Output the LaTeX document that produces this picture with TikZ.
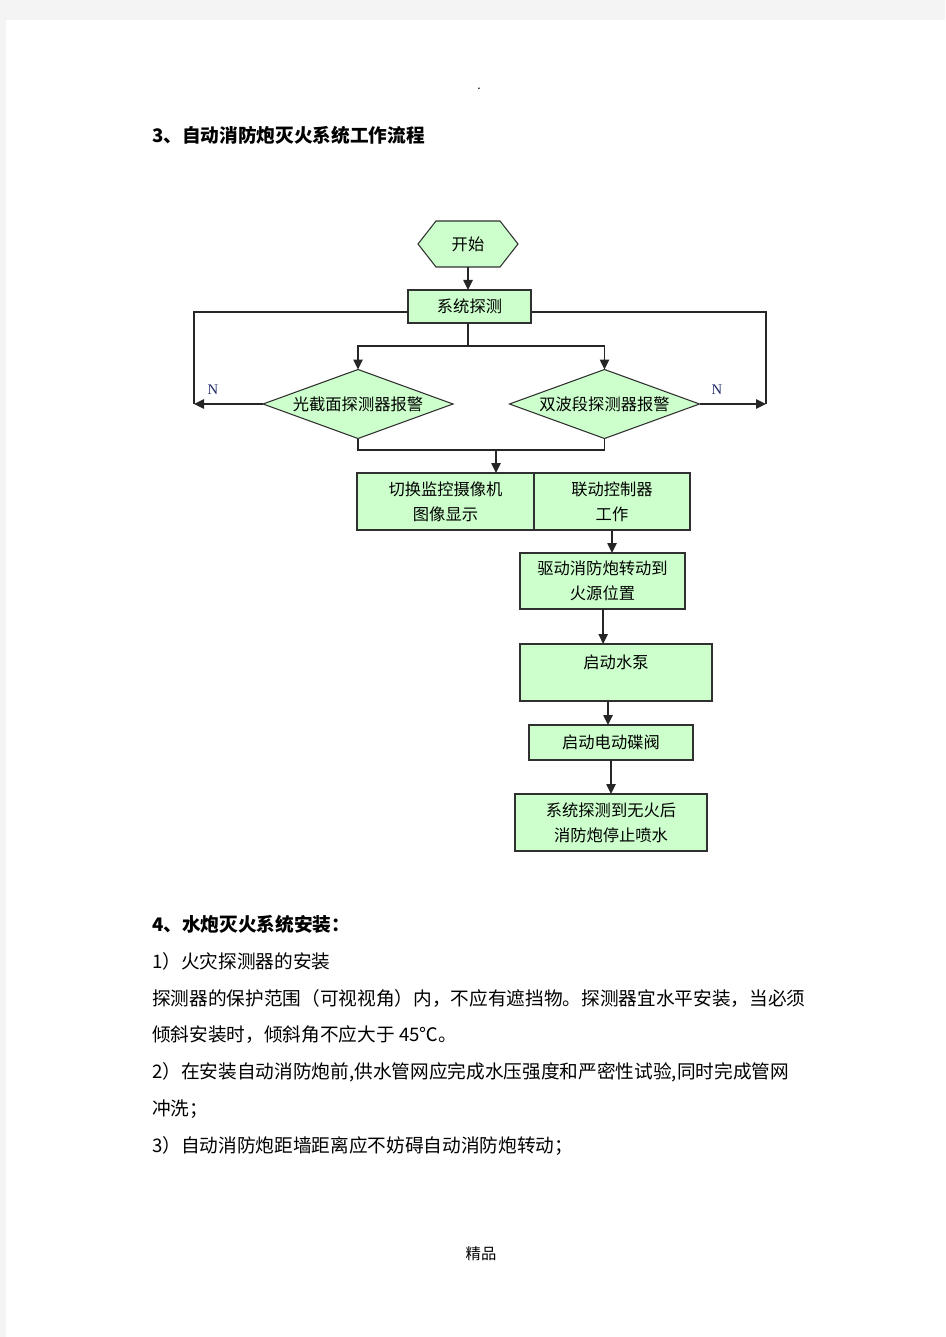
\documentclass[tikz,border=0pt]{standalone}
\usepackage{fontspec}
\newfontfamily\cjk{Noto Sans CJK SC}
\newfontfamily\serifN{Liberation Serif}
\usetikzlibrary{shapes.geometric,arrows.meta}
\definecolor{boxfill}{HTML}{CCFFCC}
\definecolor{pagegray}{HTML}{F4F4F4}
\definecolor{linecol}{HTML}{303030}
\definecolor{ncol}{HTML}{1F2A6B}
\begin{document}
\begin{tikzpicture}[x=0.75pt,y=-0.75pt,
  every node/.style={font=\cjk},
  flowfont/.style={font=\cjk\fontsize{12.2}{18.75}\selectfont},
  box/.style={draw=linecol, line width=0.8pt, fill=boxfill, inner sep=0pt, outer sep=0pt, align=center, flowfont},
  dia/.style={diamond, draw=linecol, line width=0.8pt, fill=boxfill, inner sep=0pt, outer sep=0pt,
              minimum width=142.5pt, minimum height=51.75pt, aspect=2.75, flowfont},
  conn/.style={draw=black!85, line width=1.1pt},
  arr/.style={conn, -{Triangle[length=7.5pt,width=7pt]}},
  para/.style={anchor=west, inner sep=0pt, font=\cjk\fontsize{14}{17}\selectfont, text=black},
  nlabel/.style={inner sep=0pt, font=\serifN\fontsize{11}{11}\selectfont, text=ncol}]
\useasboundingbox (0,0) rectangle (945,1337);
\fill[pagegray] (0,0) rectangle (945,1337);
\fill[white] (6,20) rectangle (945,1337);

% header dot and footer
\node[inner sep=0pt, font=\cjk\fontsize{9}{9}\selectfont] (dot) at (479,89) {.};
\node[inner sep=0pt, font=\cjk\fontsize{11.5}{12}\selectfont] (footer) at (481,1254) {精品};

% heading
\node[para, font=\cjk\bfseries\fontsize{14}{17}\selectfont] (h3) at (152,135) {3、自动消防炮灭火系统工作流程};

% start hexagon
\node[minimum width=75pt, minimum height=34.5pt, inner sep=0pt, outer sep=0pt] (start) at (468,244) {};
\draw[draw=linecol, line width=0.8pt, fill=boxfill]
  (start.west) -- ([xshift=13.5pt]start.north west) -- ([xshift=-13.5pt]start.north east)
  -- (start.east) -- ([xshift=-13.5pt]start.south east) -- ([xshift=13.5pt]start.south west) -- cycle;
\node[flowfont, inner sep=0pt] (starttext) at (start) {开始};

% boxes
\node[box, minimum width=92.25pt, minimum height=24.75pt] (sys) at (469.5,306.5) {系统探测};
\node[dia] (d1) at (358,404) {光截面探测器报警};
\node[dia] (d2) at (604.5,404) {双波段探测器报警};
\node[box, minimum width=132.75pt, minimum height=42.75pt] (cam) at (445.5,501.5) {切换监控摄像机\\图像显示};
\node[box, minimum width=117pt, minimum height=42.75pt] (ctl) at (612,501.5) {联动控制器\\工作};
\node[box, minimum width=123.75pt, minimum height=42pt] (drv) at (602.5,581) {驱动消防炮转动到\\火源位置};
\draw[linecol, line width=1.4pt] (drv.north east) -- (drv.south east);
\node[box, minimum width=144pt, minimum height=42.75pt] (pump) at (616,672.5) {启动水泵\\[-8pt]\strut};
\node[box, minimum width=123pt, minimum height=26.25pt] (valve) at (611,742.5) {启动电动碟阀};
\node[box, minimum width=144pt, minimum height=42.75pt] (last) at (611,822.5) {系统探测到无火后\\消防炮停止喷水};

% connectors
\draw[arr] (start.south) -- (start.south |- sys.north);
\coordinate (split) at (468,346);
\draw[conn] (split |- sys.south) -- (split);
\draw[arr] (split) -| (d1.north);
\draw[arr] (split) -| (d2.north);

\coordinate (lc) at (194,312);
\coordinate (rc) at (766,312);
\draw[conn] (sys.west |- lc) -- (lc) -- (lc |- d1.west);
\draw[arr] (d1.west) -- (lc |- d1.west);
\draw[conn] (sys.east |- rc) -- (rc) -- (rc |- d2.east);
\draw[arr] (d2.east) -- (rc |- d2.east);
\node[nlabel] (n1) at (213,390) {N};
\node[nlabel] (n2) at (717,390) {N};

\coordinate (join) at (496,450);
\draw[conn] (d1.south) -- (d1.south |- join) -- (d2.south |- join) -- (d2.south);
\draw[arr] (join) -- (join |- cam.north);
\draw[arr] (ctl.south) -- (ctl.south |- drv.north);
\draw[arr] ([xshift=0.5pt]drv.south) -- ([xshift=0.5pt]drv.south |- pump.north);
\draw[arr] ([xshift=-6pt]pump.south) -- ([xshift=-6pt]pump.south |- valve.north);
\draw[arr] (valve.south) -- (valve.south |- last.north);

% body text
\node[para, font=\cjk\bfseries\fontsize{14}{17}\selectfont] (h4) at (152,924) {4、水炮灭火系统安装：};
\node[para] (p1) at (152,961) {1）火灾探测器的安装};
\node[para] (p2) at (152,998) {探测器的保护范围（可视视角）内，不应有遮挡物。探测器宜水平安装，当必须};
\node[para] (p3) at (152,1035) {倾斜安装时，倾斜角不应大于 45℃。};
\node[para] (p4) at (152,1072) {2）在安装自动消防炮前,供水管网应完成水压强度和严密性试验,同时完成管网};
\node[para] (p5) at (152,1109) {冲洗；};
\node[para] (p6) at (152,1146) {3）自动消防炮距墙距离应不妨碍自动消防炮转动；};
\end{tikzpicture}
\end{document}
